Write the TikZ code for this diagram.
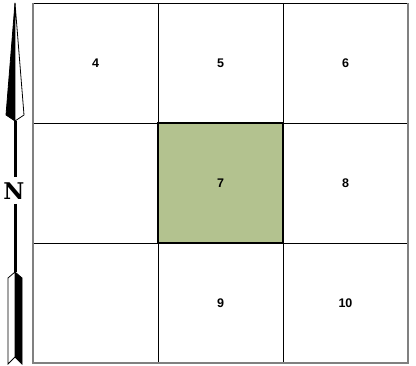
\documentclass[tikz,border=0pt]{standalone}
\usepackage{fontspec}
\setsansfont{Liberation Sans}
\newfontfamily\compassfont{DejaVu Serif}
\usepackage{tikz}
\usetikzlibrary{positioning}
\definecolor{zonegreen}{HTML}{B3C28F}
\definecolor{framegray}{HTML}{808080}

\begin{document}
\begin{tikzpicture}[
  x=1pt, y=-1pt,
  font=\sffamily\bfseries\fontsize{12.5}{12.5}\selectfont,
  cell/.style={draw=black, line width=0.7pt, minimum width=125pt, minimum height=120pt, inner sep=0pt, outer sep=0pt},
  focus/.style={cell, fill=zonegreen, line width=2.2pt},
  nib/.style={draw=black, line width=0.8pt, line join=miter},
  stembar/.style={draw=black, line width=3pt}
]
\useasboundingbox (0,0) rectangle (416,366);
% grid of zones
\node[cell, anchor=north west] (z4) at (33,3) {4};
\node[cell, right=0pt of z4] (z5) {5};
\node[cell, right=0pt of z5] (z6) {6};
\node[cell, below=0pt of z4] (z1) {};
\node[cell, below=0pt of z6] (z8) {8};
\node[cell, below=0pt of z1] (z2) {};
\node[cell, right=0pt of z2] (z9) {9};
\node[cell, right=0pt of z9] (z10) {10};
\node[focus, below=0pt of z5] (z7) {7};
% outer frame shading
\draw[framegray, line width=1.2pt] (z4.north west) -- (z2.south west) -- (z10.south east) -- (z6.north east);
% north arrow
\node[font=\compassfont\bfseries\fontsize{23}{23}\selectfont, inner sep=0pt] (nlabel) at (14,191) {N};
\coordinate (tip) at (15,3);
\coordinate (notch) at (15,121);
\coordinate (tail) at (15,272);
\coordinate (above n) at (15,177);
\coordinate (below n) at (15,204);
\draw[stembar] (notch) -- (above n);
\draw[stembar] (below n) -- (tail);
\fill[black] (tip) -- (6,115) -- (notch) -- cycle;
\draw[nib, fill=white] (tip) -- (24,115) -- (notch) -- cycle;
\draw[nib] (tip) -- (6,115) -- (notch);
\draw[nib, fill=white] (tail) -- (8,278) -- (8,364) -- (15,357) -- cycle;
\fill[black] (tail) -- (22,278) -- (22,364) -- (15,357) -- cycle;
\draw[nib] (tail) -- (22,278) -- (22,364) -- (15,357);
\end{tikzpicture}
\end{document}
